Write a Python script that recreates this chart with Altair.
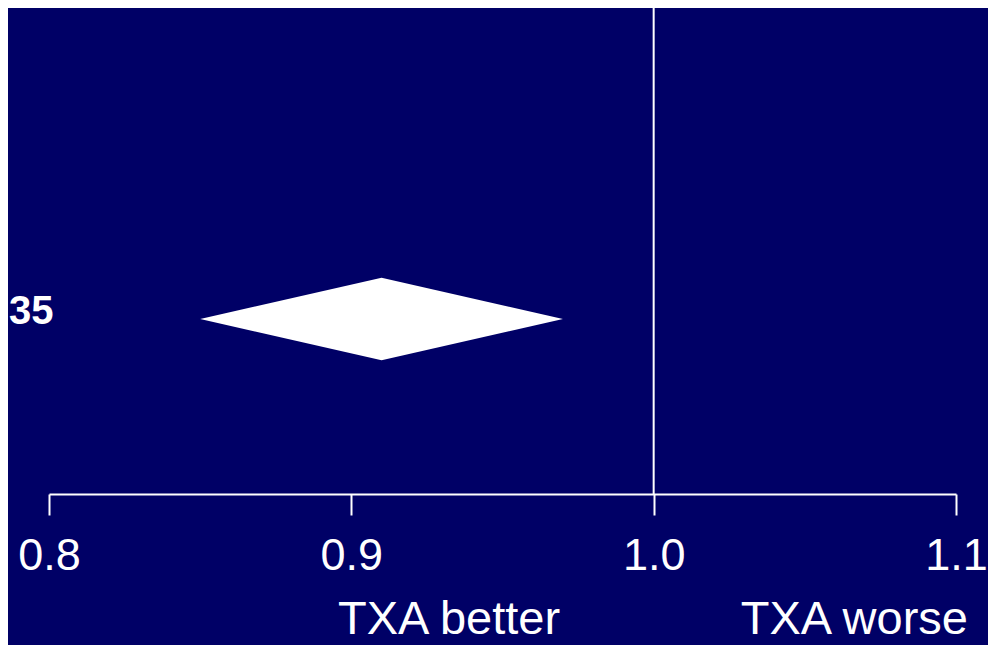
import altair as alt
import pandas as pd

# data
ticks = [0.8, 0.9, 1.0, 1.1]
null_value = [1.0]
est = 0.91
lo = 0.85
hi = 0.97
row = 3.6
half = 0.85
side_labels = ["TXA better", "TXA worse"]
side_x = [0.8956, 1.0288]
row_label = ["35"]

BG = "#000066"
FONT = "Liberation Sans"

diamond = pd.DataFrame({"x": [lo, est, hi], "y": [row, row + half, row], "y2": [row, row - half, row]})
xs = alt.Scale(domain=[0.8, 1.1], nice=False, zero=False)
ys = alt.Scale(domain=[0, 10], nice=False, zero=False)

xaxis = alt.Axis(values=ticks, format=".1f", title=None, grid=False,
                 domainColor="white", domainWidth=2, tickColor="white", tickWidth=2,
                 tickSize=21, labelColor="white", labelFontSize=45, labelFont=FONT,
                 labelPadding=18, labelFlush=False)

area = alt.Chart(diamond).mark_area(color="white", opacity=1, interpolate="linear").encode(
    x=alt.X("x:Q", scale=xs, axis=xaxis),
    y=alt.Y("y:Q", scale=ys, axis=None),
    y2="y2:Q",
)

rule = alt.Chart(pd.DataFrame({"x": null_value})).mark_rule(color="white", strokeWidth=2).encode(
    x=alt.X("x:Q", scale=xs)
)

side = alt.Chart(pd.DataFrame({"x": side_x, "t": side_labels})).mark_text(
    color="white", font=FONT, fontSize=47, align="left", baseline="alphabetic"
).encode(x=alt.X("x:Q", scale=xs), y=alt.value(626), text="t:N")

rl = alt.Chart(pd.DataFrame({"t": row_label, "y": [row]})).mark_text(
    color="white", font=FONT, fontSize=40, fontWeight="bold", align="left", baseline="middle", dy=-7
).encode(x=alt.value(-40), y=alt.Y("y:Q", scale=ys), text="t:N")

chart = alt.layer(rule, area, side, rl).properties(
    width=907, height=486, background=BG,
    autosize=alt.AutoSizeParams(type="none"),
    padding={"left": 41, "top": 0, "right": 32, "bottom": 151},
).configure_view(stroke=None)

chart.save("out.html", embed_options={"renderer": "svg", "actions": False})
